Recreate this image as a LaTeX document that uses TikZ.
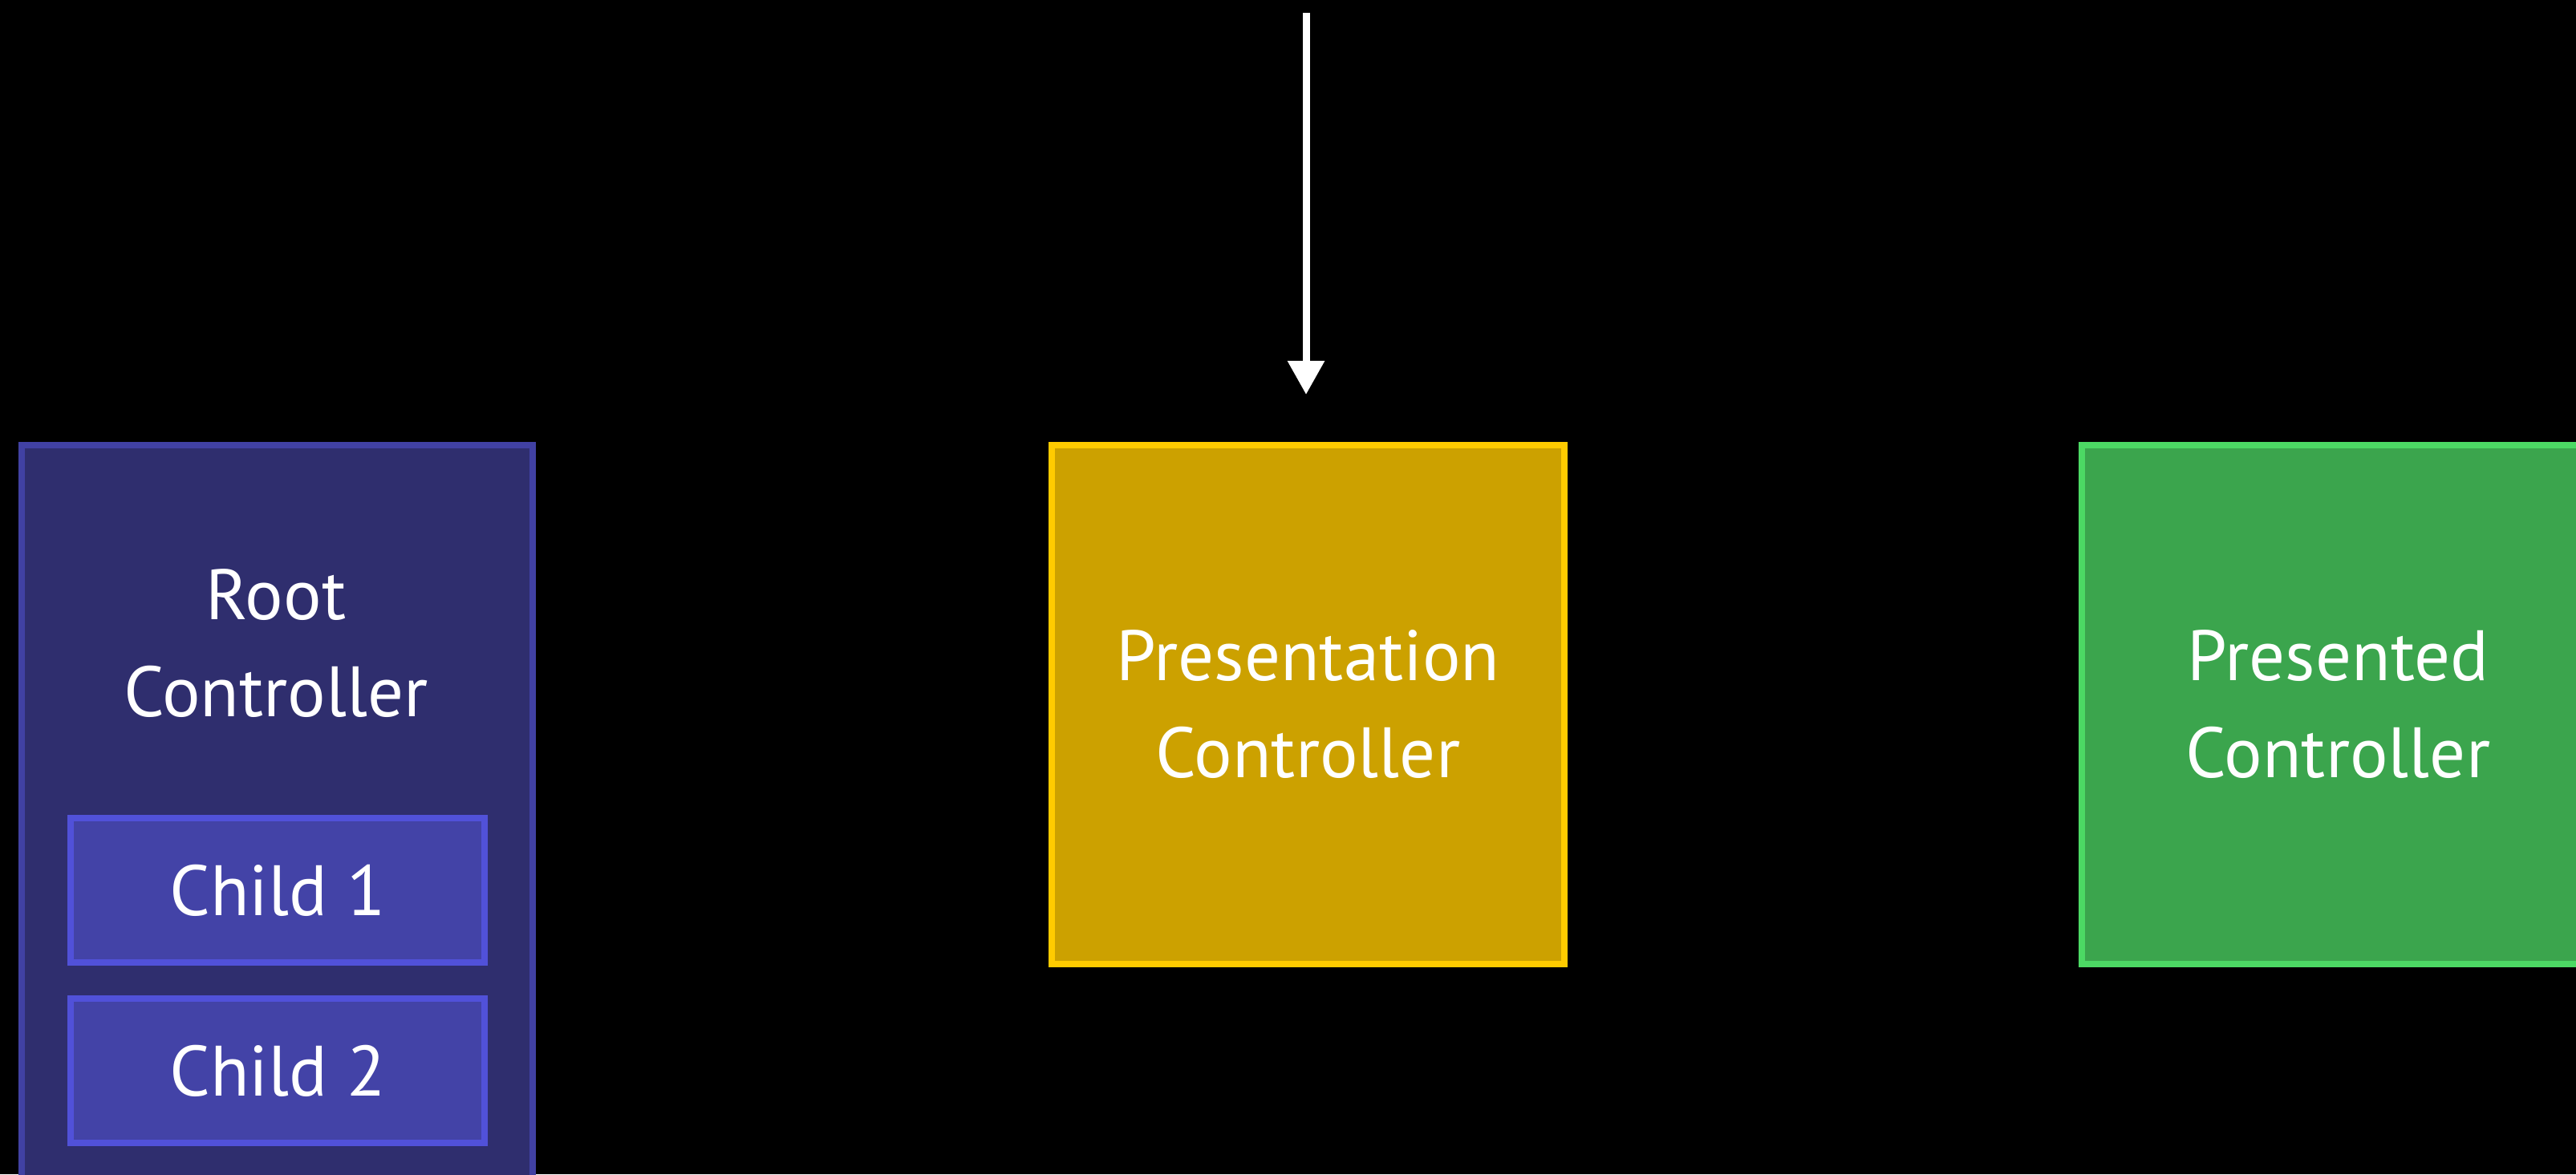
\documentclass[tikz,border=0pt]{standalone}
\usepackage{fontspec}
\setmainfont{PT Sans}
\usepackage{tikz}
\usetikzlibrary{arrows.meta}

\definecolor{rootfill}{HTML}{2F2E6E}
\definecolor{rootline}{HTML}{4141A3}
\definecolor{childfill}{HTML}{4343A7}
\definecolor{childline}{HTML}{5151D9}
\definecolor{presfill}{HTML}{CCA100}
\definecolor{presline}{HTML}{FFCB00}
\definecolor{donefill}{HTML}{3BA54D}
\definecolor{doneline}{HTML}{4CD964}

\begin{document}
\begin{tikzpicture}[>={Triangle[width=4.4mm, length=4.2mm]},
	every node/.style={font=\fontsize{25.3}{34.4}\selectfont, text=white, align=center},
	box/.style={draw, line width=0.08cm, inner sep=0pt, minimum width=6.39cm, minimum height=6.47cm}]
	\fill[black] (0,0) rectangle (32.11,14.64);
	\useasboundingbox (0,0) rectangle (32.11,14.64);
	\clip (0,0) rectangle (32.11,14.64);
	% root controller with its two children
	\node[box, fill=rootfill, draw=rootline, minimum width=6.37cm, minimum height=9.83cm] (root) at (3.45,4.175) {};
	\node (roottext) at (3.44,6.62) {Root\\Controller};
	\node[box, fill=childfill, draw=childline, minimum width=5.16cm, minimum height=1.80cm] (child1) at (3.46,3.54) {Child 1};
	\node[box, fill=childfill, draw=childline, minimum width=5.16cm, minimum height=1.80cm] (child2) at (3.46,1.285) {Child 2};
	% presenting and presented controllers
	\node[box, fill=presfill, draw=presline] (pres) at (16.305,5.855) {Presentation\\Controller};
	\node[box, fill=donefill, draw=doneline] (presented) at (29.145,5.855) {Presented\\Controller};
	\coordinate (entry) at (16.28,14.48);
	\draw[->, white, line width=0.09cm] (entry) -- ([yshift=0.59cm]pres.north -| entry);
\end{tikzpicture}
\end{document}
